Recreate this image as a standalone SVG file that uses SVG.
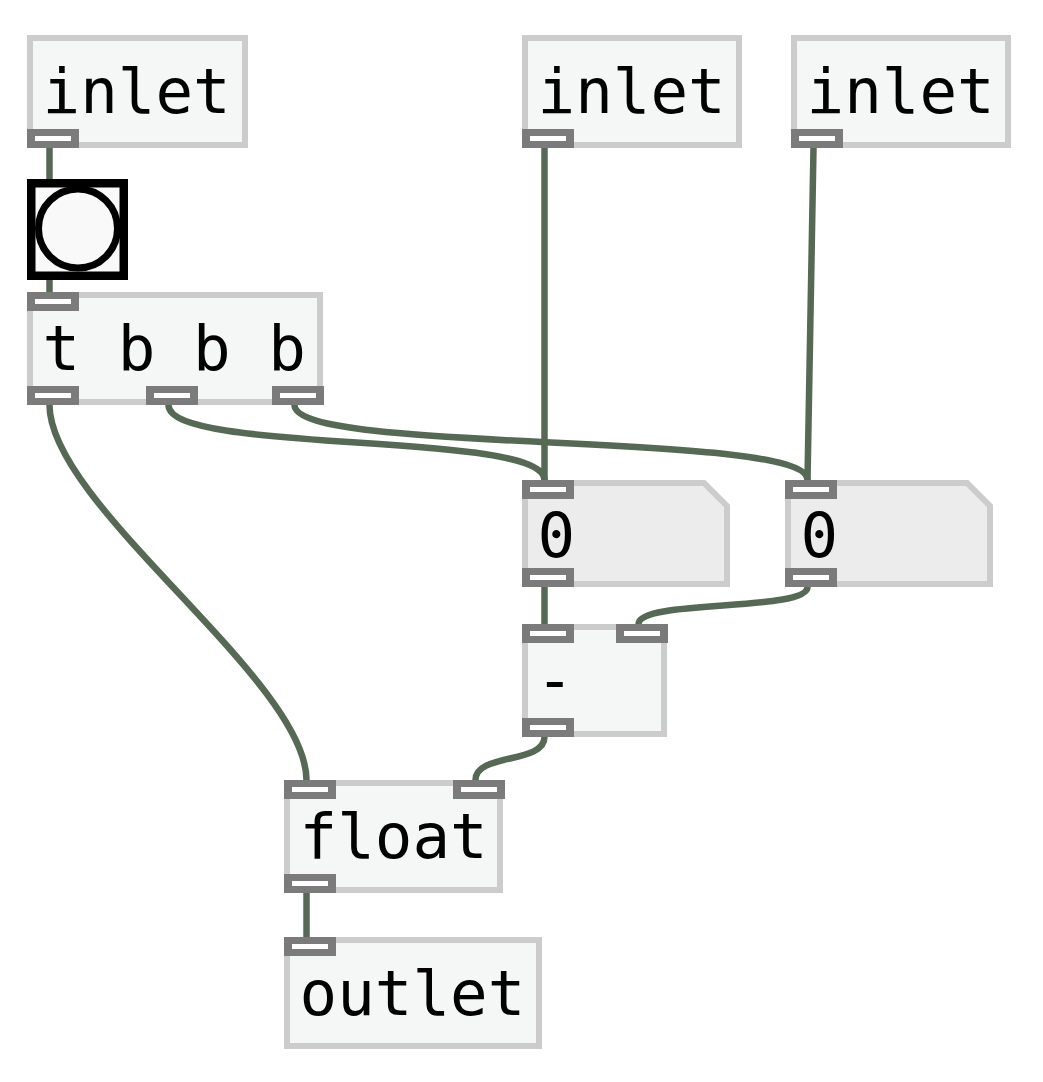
<svg xmlns="http://www.w3.org/2000/svg" xmlns:xlink="http://www.w3.org/1999/xlink" width="1043" height="1082" viewBox="0 0 1043 1082">
<style>
.obj{fill:#f5f7f6;stroke:#cccccc;stroke-width:6}
.num{fill:#ececec;stroke:#cccccc;stroke-width:6;stroke-linejoin:miter}
.txt{font-family:"DejaVu Sans Mono","Liberation Mono",monospace;font-size:62.5px;fill:#000}
.cord{fill:none;stroke:#566954;stroke-width:6.5}
</style>
<defs>
<g id="port"><rect width="52" height="19" fill="#7b7b7b"/><rect x="8" y="7" width="36" height="5" fill="#ffffff"/></g>
</defs>
<rect width="1043" height="1082" fill="#ffffff"/>
<g id="connectors">
<path class="cord" d="M49.5,148 V183"/>
<path class="cord" d="M49.5,275 V292"/>
<path class="cord" d="M544.5,148 V480"/>
<path class="cord" d="M813.5,148 L807.5,480"/>
<path class="cord" d="M49.5,405 C49.5,505 306.5,680 306.5,780"/>
<path class="cord" d="M168.5,405 C168.5,455 544.5,430 544.5,480"/>
<path class="cord" d="M294.5,405 C294.5,455 807.5,430 807.5,480"/>
<path class="cord" d="M544.5,587 V624"/>
<path class="cord" d="M807.5,587 C807.5,612 638.5,599 638.5,624"/>
<path class="cord" d="M544.5,737 C544.5,764 475.5,753 475.5,780"/>
<path class="cord" d="M306.5,893 V937"/>
</g>
<g id="inlet1">
<rect class="obj" x="30" y="38" width="215" height="107"/>
<text class="txt" x="42.5" y="113">inlet</text>
<use xlink:href="#port" x="27" y="129"/>
</g>
<g id="inlet2">
<rect class="obj" x="525" y="38" width="214" height="107"/>
<text class="txt" x="537.5" y="113">inlet</text>
<use xlink:href="#port" x="522" y="129"/>
</g>
<g id="inlet3">
<rect class="obj" x="794" y="38" width="214" height="107"/>
<text class="txt" x="806.5" y="113">inlet</text>
<use xlink:href="#port" x="791" y="129"/>
</g>
<g id="bang">
<rect x="31.25" y="183.25" width="92.5" height="92.5" fill="#f9f9f9" stroke="#000000" stroke-width="8.5"/>
<circle cx="78" cy="228.5" r="39.5" fill="none" stroke="#000000" stroke-width="7"/>
</g>
<g id="trigger">
<rect class="obj" x="30" y="295" width="290" height="107"/>
<text class="txt" x="42.5" y="370">t b b b</text>
<use xlink:href="#port" x="27" y="292"/>
<use xlink:href="#port" x="27" y="386"/>
<use xlink:href="#port" x="146" y="386"/>
<use xlink:href="#port" x="272" y="386"/>
</g>
<g id="number1">
<path class="num" d="M525,483 H704 L727,506 V584 H525 Z"/>
<text class="txt" x="537.5" y="557">0</text>
<use xlink:href="#port" x="522" y="480"/>
<use xlink:href="#port" x="522" y="568"/>
</g>
<g id="number2">
<path class="num" d="M788,483 H967 L990,506 V584 H788 Z"/>
<text class="txt" x="800.5" y="557">0</text>
<use xlink:href="#port" x="785" y="480"/>
<use xlink:href="#port" x="785" y="568"/>
</g>
<g id="minus">
<rect class="obj" x="525" y="627" width="139" height="107"/>
<text class="txt" x="536" y="702">-</text>
<use xlink:href="#port" x="522" y="624"/>
<use xlink:href="#port" x="616" y="624"/>
<use xlink:href="#port" x="522" y="718"/>
</g>
<g id="float">
<rect class="obj" x="287" y="783" width="213" height="107"/>
<text class="txt" x="299.5" y="858">float</text>
<use xlink:href="#port" x="284" y="780"/>
<use xlink:href="#port" x="453" y="780"/>
<use xlink:href="#port" x="284" y="874"/>
</g>
<g id="outlet">
<rect class="obj" x="287" y="940" width="252" height="106"/>
<text class="txt" x="299.5" y="1015">outlet</text>
<use xlink:href="#port" x="284" y="937"/>
</g>
</svg>
